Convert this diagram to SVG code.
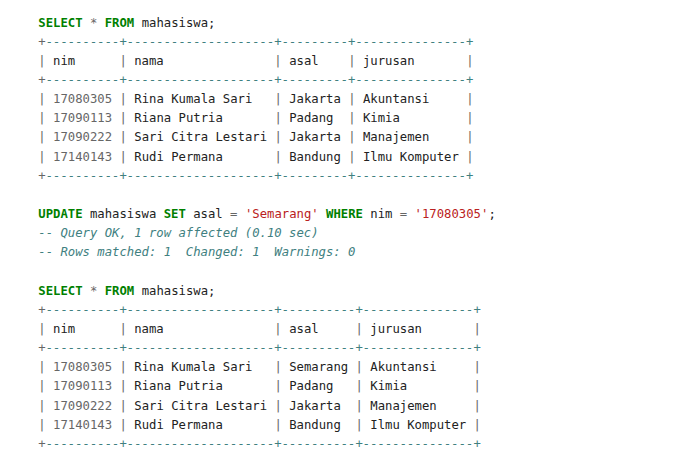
<svg xmlns="http://www.w3.org/2000/svg" width="692" height="465" viewBox="0 0 692 465">
<style>
text{font-family:"DejaVu Sans Mono","Liberation Mono",monospace;font-size:12.26px;fill:#222;white-space:pre}
.k{fill:#008000;font-weight:bold}
.o{fill:#666666}
.m{fill:#666666}
.s{fill:#BA2121}
.c{fill:#408080;font-style:italic}
</style>
<rect width="692" height="465" fill="#ffffff"/>
<g id="select1" xml:space="preserve">
<text x="38.3" y="26.5"><tspan class="k">SELECT</tspan> <tspan class="o">*</tspan> <tspan class="k">FROM</tspan> mahasiswa;</text>
<text x="38.3" y="45.65"><tspan class="o">+</tspan><tspan class="c">----------+--------------------+---------+---------------+</tspan></text>
<text x="38.3" y="64.8"><tspan class="o">|</tspan> nim      <tspan class="o">|</tspan> nama               <tspan class="o">|</tspan> asal    <tspan class="o">|</tspan> jurusan       <tspan class="o">|</tspan></text>
<text x="38.3" y="83.95"><tspan class="o">+</tspan><tspan class="c">----------+--------------------+---------+---------------+</tspan></text>
<text x="38.3" y="103.1"><tspan class="o">|</tspan> <tspan class="m">17080305</tspan> <tspan class="o">|</tspan> Rina Kumala Sari   <tspan class="o">|</tspan> Jakarta <tspan class="o">|</tspan> Akuntansi     <tspan class="o">|</tspan></text>
<text x="38.3" y="122.25"><tspan class="o">|</tspan> <tspan class="m">17090113</tspan> <tspan class="o">|</tspan> Riana Putria       <tspan class="o">|</tspan> Padang  <tspan class="o">|</tspan> Kimia         <tspan class="o">|</tspan></text>
<text x="38.3" y="141.4"><tspan class="o">|</tspan> <tspan class="m">17090222</tspan> <tspan class="o">|</tspan> Sari Citra Lestari <tspan class="o">|</tspan> Jakarta <tspan class="o">|</tspan> Manajemen     <tspan class="o">|</tspan></text>
<text x="38.3" y="160.55"><tspan class="o">|</tspan> <tspan class="m">17140143</tspan> <tspan class="o">|</tspan> Rudi Permana       <tspan class="o">|</tspan> Bandung <tspan class="o">|</tspan> Ilmu Komputer <tspan class="o">|</tspan></text>
<text x="38.3" y="179.7"><tspan class="o">+</tspan><tspan class="c">----------+--------------------+---------+---------------+</tspan></text>
</g>
<g id="update" xml:space="preserve">
<text x="38.3" y="218"><tspan class="k">UPDATE</tspan> mahasiswa <tspan class="k">SET</tspan> asal <tspan class="o">=</tspan> <tspan class="s">'Semarang'</tspan> <tspan class="k">WHERE</tspan> nim <tspan class="o">=</tspan> <tspan class="s">'17080305'</tspan>;</text>
<text x="38.3" y="237.15" class="c">-- Query OK, 1 row affected (0.10 sec)</text>
<text x="38.3" y="256.3" class="c">-- Rows matched: 1  Changed: 1  Warnings: 0</text>
</g>
<g id="select2" xml:space="preserve">
<text x="38.3" y="294.6"><tspan class="k">SELECT</tspan> <tspan class="o">*</tspan> <tspan class="k">FROM</tspan> mahasiswa;</text>
<text x="38.3" y="313.75"><tspan class="o">+</tspan><tspan class="c">----------+--------------------+----------+---------------+</tspan></text>
<text x="38.3" y="332.9"><tspan class="o">|</tspan> nim      <tspan class="o">|</tspan> nama               <tspan class="o">|</tspan> asal     <tspan class="o">|</tspan> jurusan       <tspan class="o">|</tspan></text>
<text x="38.3" y="352.05"><tspan class="o">+</tspan><tspan class="c">----------+--------------------+----------+---------------+</tspan></text>
<text x="38.3" y="371.2"><tspan class="o">|</tspan> <tspan class="m">17080305</tspan> <tspan class="o">|</tspan> Rina Kumala Sari   <tspan class="o">|</tspan> Semarang <tspan class="o">|</tspan> Akuntansi     <tspan class="o">|</tspan></text>
<text x="38.3" y="390.35"><tspan class="o">|</tspan> <tspan class="m">17090113</tspan> <tspan class="o">|</tspan> Riana Putria       <tspan class="o">|</tspan> Padang   <tspan class="o">|</tspan> Kimia         <tspan class="o">|</tspan></text>
<text x="38.3" y="409.5"><tspan class="o">|</tspan> <tspan class="m">17090222</tspan> <tspan class="o">|</tspan> Sari Citra Lestari <tspan class="o">|</tspan> Jakarta  <tspan class="o">|</tspan> Manajemen     <tspan class="o">|</tspan></text>
<text x="38.3" y="428.65"><tspan class="o">|</tspan> <tspan class="m">17140143</tspan> <tspan class="o">|</tspan> Rudi Permana       <tspan class="o">|</tspan> Bandung  <tspan class="o">|</tspan> Ilmu Komputer <tspan class="o">|</tspan></text>
<text x="38.3" y="447.8"><tspan class="o">+</tspan><tspan class="c">----------+--------------------+----------+---------------+</tspan></text>
</g>
</svg>
